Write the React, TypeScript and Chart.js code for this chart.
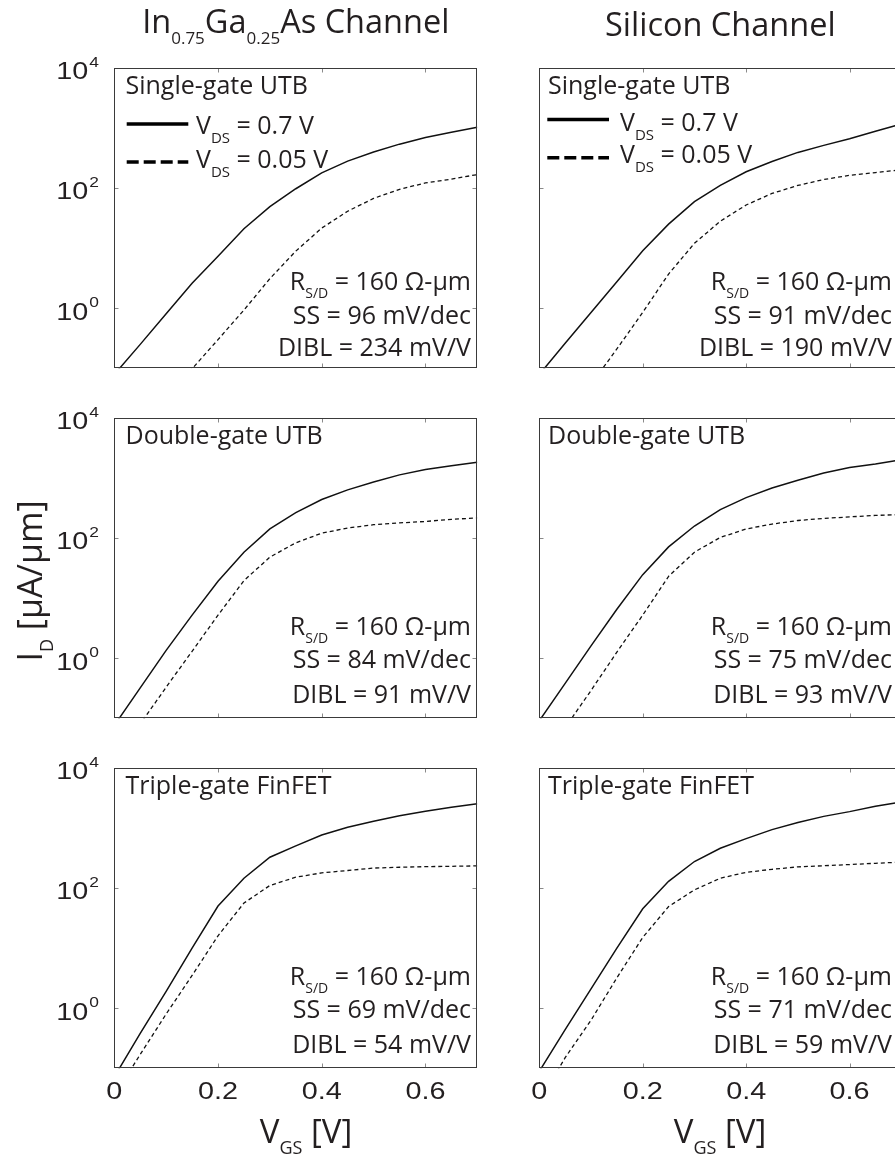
import React, { useEffect, useRef } from 'react';
import { Chart, registerables } from 'chart.js';

Chart.register(...registerables);

// ---------------- data ----------------
const VGS = [0, 0.05, 0.1, 0.15, 0.2, 0.25, 0.3, 0.35, 0.4, 0.45, 0.5, 0.55, 0.6, 0.65, 0.7];

// In0.75Ga0.25As channel, I_D [uA/um]
const INGAAS_SG_VDS07 = [0.079, 0.25, 0.81, 2.6, 7.3, 21, 49, 97, 178, 279, 395, 535, 692, 841, 1020];
const INGAAS_SG_VDS005 = [null, null, 0.032, 0.098, 0.3, 0.93, 3.1, 8.9, 21.5, 41, 67, 95, 121, 140, 167];
const INGAAS_DG_VDS07 = [0.076, 0.32, 1.35, 5.2, 19, 58, 141, 263, 436, 631, 851, 1120, 1380, 1585, 1820];
const INGAAS_DG_VDS005 = [0.02, 0.08, 0.33, 1.3, 5.2, 19.5, 48, 83, 120, 146, 166, 178, 188, 204, 215];
const INGAAS_FIN_VDS07 = [0.072, 0.38, 1.9, 10, 50, 145, 324, 500, 759, 1023, 1288, 1585, 1880, 2190, 2510];
const INGAAS_FIN_VDS005 = [0.035, 0.17, 0.8, 3.5, 16, 56, 110, 151, 178, 195, 214, 221, 226, 229, 233];

// Silicon channel, I_D [uA/um]
const SI_SG_VDS07 = [0.079, 0.26, 0.85, 2.75, 9.0, 25, 59, 110, 186, 275, 390, 510, 660, 880, 1160];
const SI_SG_VDS005 = [null, null, 0.054, 0.21, 0.85, 3.7, 12, 28, 52, 81, 110, 138, 162, 180, 200];
const SI_DG_VDS07 = [0.091, 0.38, 1.6, 6.5, 24.5, 71, 158, 295, 468, 676, 912, 1200, 1480, 1700, 2000];
const SI_DG_VDS005 = [0.013, 0.07, 0.29, 1.26, 5.2, 23, 58, 102, 141, 170, 195, 211, 224, 237, 245];
const SI_FIN_VDS07 = [0.089, 0.44, 2.1, 10, 45, 129, 275, 457, 661, 933, 1230, 1550, 1860, 2290, 2690];
const SI_FIN_VDS005 = [0.028, 0.15, 0.63, 3.2, 15, 49, 93, 145, 182, 204, 224, 234, 245, 257, 269];

const DEVICE_NAMES = ['Single-gate UTB', 'Double-gate UTB', 'Triple-gate FinFET'];
const SS_INGAAS = [96, 84, 69];
const DIBL_INGAAS = [234, 91, 54];
const SS_SI = [91, 75, 71];
const DIBL_SI = [190, 93, 59];
const RSD = 160;
const LEGEND_LABELS = ['0.7 V', '0.05 V'];

const X_TICKS = [0, 0.2, 0.4, 0.6];
const X_TICK_LABELS = ['0', '0.2', '0.4', '0.6'];
const Y_TICKS = [1, 100, 10000];
const Y_TICK_EXPONENTS = ['0', '2', '4'];

// ---------------- layout ----------------
const W = 910;
const H = 1157;
const COLS = [
  { left: 114.3, right: 477.3 },
  { left: 539.3, right: 901.3 },
];
const ROWS = [
  { top: 67.7, bottom: 368.3 },
  { top: 417.7, bottom: 718.3 },
  { top: 767.7, bottom: 1068.3 },
];

const TEXT_COLOR = '#231f20';
const FRAME_COLOR = '#3a3a3a';
const TICK_COLOR = '#8a8a8a';
const FAMILY = "'Open Sans', sans-serif";
const TICK_FAMILY = "'Liberation Sans', Arial, sans-serif";
const TICK_STRETCH = 1.2;
const TICK_SIZE = 24;

type Seg = { t: string; sub?: boolean };

function drawRich(
  ctx: CanvasRenderingContext2D,
  segs: Seg[],
  x: number,
  y: number,
  o: { size: number; subSize: number; subDy: number; family: string; align: 'left' | 'right' | 'center' }
) {
  const widths = segs.map((s) => {
    ctx.font = `${s.sub ? o.subSize : o.size}px ${o.family}`;
    return ctx.measureText(s.t).width;
  });
  const total = widths.reduce((a, b) => a + b, 0);
  let cx = o.align === 'right' ? x - total : o.align === 'center' ? x - total / 2 : x;
  ctx.textAlign = 'left';
  ctx.textBaseline = 'alphabetic';
  segs.forEach((s, i) => {
    ctx.font = `${s.sub ? o.subSize : o.size}px ${o.family}`;
    ctx.fillText(s.t, cx, y + (s.sub ? o.subDy : 0));
    cx += widths[i];
  });
}

function drawStretched(
  ctx: CanvasRenderingContext2D,
  text: string,
  x: number,
  y: number,
  size: number,
  align: CanvasTextAlign
) {
  ctx.save();
  ctx.translate(x, y);
  ctx.scale(TICK_STRETCH, 1);
  ctx.font = `${size}px ${TICK_FAMILY}`;
  ctx.textAlign = align;
  ctx.textBaseline = 'alphabetic';
  ctx.fillText(text, 0, 0);
  ctx.restore();
}

type Panel = {
  row: number;
  col: number;
  hi: (number | null)[];
  lo: (number | null)[];
  name: string;
  ss: number;
  dibl: number;
};

const PANELS: Panel[] = [
  { row: 0, col: 0, hi: INGAAS_SG_VDS07, lo: INGAAS_SG_VDS005, name: DEVICE_NAMES[0], ss: SS_INGAAS[0], dibl: DIBL_INGAAS[0] },
  { row: 0, col: 1, hi: SI_SG_VDS07, lo: SI_SG_VDS005, name: DEVICE_NAMES[0], ss: SS_SI[0], dibl: DIBL_SI[0] },
  { row: 1, col: 0, hi: INGAAS_DG_VDS07, lo: INGAAS_DG_VDS005, name: DEVICE_NAMES[1], ss: SS_INGAAS[1], dibl: DIBL_INGAAS[1] },
  { row: 1, col: 1, hi: SI_DG_VDS07, lo: SI_DG_VDS005, name: DEVICE_NAMES[1], ss: SS_SI[1], dibl: DIBL_SI[1] },
  { row: 2, col: 0, hi: INGAAS_FIN_VDS07, lo: INGAAS_FIN_VDS005, name: DEVICE_NAMES[2], ss: SS_INGAAS[2], dibl: DIBL_INGAAS[2] },
  { row: 2, col: 1, hi: SI_FIN_VDS07, lo: SI_FIN_VDS005, name: DEVICE_NAMES[2], ss: SS_SI[2], dibl: DIBL_SI[2] },
];

function toPoints(ys: (number | null)[]) {
  const out: { x: number; y: number }[] = [];
  VGS.forEach((v, i) => {
    const val = ys[i];
    if (val !== null && val !== undefined) out.push({ x: v, y: val });
  });
  return out;
}

function panelPlugin(p: Panel) {
  return {
    id: 'panelDecor',
    afterDatasetsDraw(chart: any) {
      const ctx: CanvasRenderingContext2D = chart.ctx;
      const a = chart.chartArea;
      const xs = chart.scales.x;
      const ys = chart.scales.y;
      ctx.save();
      // ticks (inward)
      ctx.strokeStyle = TICK_COLOR;
      ctx.lineWidth = 1;
      const L = Math.round(a.left) + 0.5;
      const R = Math.round(a.right) - 0.5;
      const T = Math.round(a.top) + 0.5;
      const B = Math.round(a.bottom) - 0.5;
      ctx.beginPath();
      X_TICKS.forEach((v) => {
        if (v <= 0 || v >= 0.7) return;
        const px = Math.round(xs.getPixelForValue(v)) + 0.5;
        ctx.moveTo(px, T);
        ctx.lineTo(px, T + 4);
        ctx.moveTo(px, B);
        ctx.lineTo(px, B - 4);
      });
      Y_TICKS.forEach((v) => {
        const py = Math.round(ys.getPixelForValue(v)) + 0.5;
        if (py <= T + 1 || py >= B - 1) return;
        ctx.moveTo(L, py);
        ctx.lineTo(L + 4, py);
        ctx.moveTo(R, py);
        ctx.lineTo(R - 4, py);
      });
      ctx.stroke();
      // frame
      ctx.strokeStyle = FRAME_COLOR;
      ctx.strokeRect(L, T, R - L, B - T);

      ctx.fillStyle = TEXT_COLOR;
      const top = a.top;
      const tx = p.col === 0 ? 125.5 : 548;
      // device name
      drawRich(ctx, [{ t: p.name }], tx, top + 26, { size: 25, subSize: 15, subDy: 9, family: FAMILY, align: 'left' });

      // legend
      if (p.row === 0) {
        const lg = p.col === 0
          ? { x0: 126.7, x1: 188.3, y1: 56.3, t1: 66.7, y2: 94.3, t2: 100, tx: 196 }
          : { x0: 547.3, x1: 609, y1: 51.7, t1: 63.3, y2: 90, t2: 95.5, tx: 620 };
        ctx.strokeStyle = '#000';
        ctx.lineWidth = 3.5;
        ctx.beginPath();
        ctx.moveTo(lg.x0, top + lg.y1);
        ctx.lineTo(lg.x1, top + lg.y1);
        ctx.stroke();
        ctx.setLineDash([12, 5]);
        ctx.beginPath();
        ctx.moveTo(lg.x0, top + lg.y2);
        ctx.lineTo(lg.x1, top + lg.y2);
        ctx.stroke();
        ctx.setLineDash([]);
        const lo = { size: 25, subSize: 15, subDy: 9, family: FAMILY, align: 'left' as const };
        drawRich(ctx, [{ t: 'V' }, { t: 'DS', sub: true }, { t: ' = ' + LEGEND_LABELS[0] }], lg.tx, top + lg.t1, lo);
        drawRich(ctx, [{ t: 'V' }, { t: 'DS', sub: true }, { t: ' = ' + LEGEND_LABELS[1] }], lg.tx, top + lg.t2, lo);
      }

      // parameters
      const rx = p.col === 0 ? 471 : 892;
      const base = p.row === 0 ? [222.7, 256, 288.3] : [217, 250.7, 285];
      const po = { size: 25, subSize: 14, subDy: 8, family: FAMILY, align: 'right' as const };
      drawRich(ctx, [{ t: 'R' }, { t: 'S/D', sub: true }, { t: ` = ${RSD} \u03A9-\u03BCm` }], rx, top + base[0], po);
      drawRich(ctx, [{ t: `SS = ${p.ss} mV/dec` }], rx, top + base[1], po);
      drawRich(ctx, [{ t: `DIBL = ${p.dibl} mV/V` }], rx, top + base[2], po);

      // y tick labels (left column)
      if (p.col === 0) {
        Y_TICKS.forEach((v, i) => {
          const py = ys.getPixelForValue(v);
          drawStretched(ctx, '10', a.left - 26, py + 11.5, TICK_SIZE, 'right');
          drawStretched(ctx, Y_TICK_EXPONENTS[i], a.left - 25, py - 1, 14.5, 'left');
        });
      }
      // x tick labels (bottom row)
      if (p.row === 2) {
        X_TICKS.forEach((v, i) => {
          const px = xs.getPixelForValue(v);
          drawStretched(ctx, X_TICK_LABELS[i], px, a.bottom + 30.5, TICK_SIZE, 'center');
        });
      }
      ctx.restore();
    },
  };
}

const pageTextPlugin = {
  id: 'pageText',
  afterDraw(chart: any) {
    const ctx: CanvasRenderingContext2D = chart.ctx;
    ctx.save();
    ctx.fillStyle = TEXT_COLOR;
    const big = { size: 32.5, subSize: 17, subDy: 11, family: FAMILY, align: 'center' as const };
    const c0 = (COLS[0].left + COLS[0].right) / 2;
    const c1 = (COLS[1].left + COLS[1].right) / 2;
    drawRich(
      ctx,
      [{ t: 'In' }, { t: '0.75', sub: true }, { t: 'Ga' }, { t: '0.25', sub: true }, { t: 'As Channel' }],
      c0,
      32.5,
      big
    );
    drawRich(ctx, [{ t: 'Silicon Channel' }], c1, 35.5, big);
    const xl = { size: 33, subSize: 18, subDy: 11, family: FAMILY, align: 'center' as const };
    drawRich(ctx, [{ t: 'V' }, { t: 'GS', sub: true }, { t: ' [V]' }], 306, 1143, xl);
    drawRich(ctx, [{ t: 'V' }, { t: 'GS', sub: true }, { t: ' [V]' }], 720, 1143, xl);
    ctx.translate(42, 581);
    ctx.rotate(-Math.PI / 2);
    drawRich(ctx, [{ t: 'I' }, { t: 'D', sub: true }, { t: ' [\u03BCA/\u03BCm]' }], 0, 0, {
      size: 34,
      subSize: 18,
      subDy: 11,
      family: FAMILY,
      align: 'center',
    });
    ctx.restore();
  },
};

function makeConfig(p: Panel, withPageText: boolean): any {
  const col = COLS[p.col];
  const row = ROWS[p.row];
  const plugins: any[] = [panelPlugin(p)];
  if (withPageText) plugins.push(pageTextPlugin);
  return {
    type: 'line',
    data: {
      datasets: [
        {
          label: 'VDS = 0.7 V',
          data: toPoints(p.hi),
          borderColor: '#111',
          borderWidth: 1.5,
          pointRadius: 0,
          tension: 0,
          fill: false,
          clip: 0,
        },
        {
          label: 'VDS = 0.05 V',
          data: toPoints(p.lo),
          borderColor: '#111',
          borderWidth: 1.3,
          borderDash: [4, 3],
          pointRadius: 0,
          tension: 0,
          fill: false,
          clip: 0,
        },
      ],
    },
    options: {
      responsive: false,
      animation: false,
      devicePixelRatio: 1,
      events: [],
      layout: {
        padding: { left: col.left, right: W - col.right, top: row.top, bottom: H - row.bottom },
      },
      plugins: {
        legend: { display: false },
        tooltip: { enabled: false },
        title: { display: false },
      },
      scales: {
        x: { type: 'linear', min: 0, max: 0.7, display: false },
        y: { type: 'logarithmic', min: 0.1, max: 10000, display: false },
      },
    },
    plugins,
  };
}

export default function App() {
  const refs = useRef<(HTMLCanvasElement | null)[]>([]);
  useEffect(() => {
    const charts = PANELS.map((p, i) => new Chart(refs.current[i] as HTMLCanvasElement, makeConfig(p, i === 0)));
    return () => charts.forEach((c) => c.destroy());
  }, []);
  return (
    <div
      style={{
        position: 'absolute',
        left: 0,
        top: 0,
        width: 895,
        height: 1157,
        overflow: 'hidden',
        background: '#fff',
      }}
    >
      {PANELS.map((p, i) => (
        <canvas
          key={i}
          ref={(el) => {
            refs.current[i] = el;
          }}
          width={W}
          height={H}
          style={{ position: 'absolute', left: 0, top: 0, width: W, height: H }}
        />
      ))}
    </div>
  );
}
